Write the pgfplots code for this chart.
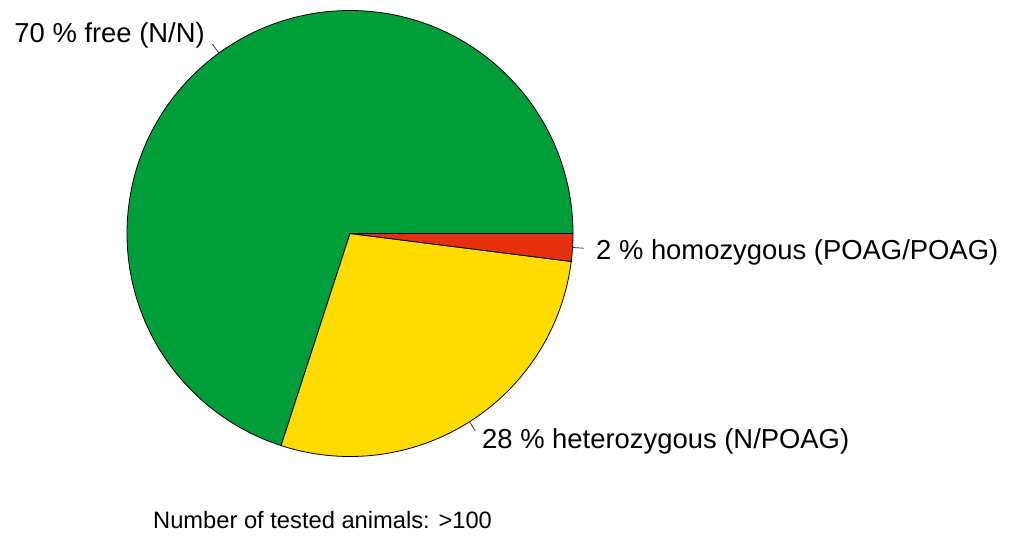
\documentclass[border=0pt]{standalone}
\usepackage{pgfplots}
\usepackage{pgfplotstable}
\pgfplotsset{compat=1.18}
\usepackage{fontspec}
\setmainfont{Liberation Sans}
\definecolor{pgreen}{HTML}{009E3A}
\definecolor{pyellow}{HTML}{FFDC00}
\definecolor{pred}{HTML}{E5300E}

\pgfplotstableread{
group pct
free 70
het 28
hom 2
}\piedata

\begin{document}
\begin{tikzpicture}
\pgfplotstablegetelem{0}{pct}\of\piedata \let\pA\pgfplotsretval
\pgfplotstablegetelem{1}{pct}\of\piedata \let\pB\pgfplotsretval
\pgfplotstablegetelem{2}{pct}\of\piedata \let\pC\pgfplotsretval
\pgfmathsetmacro{\aA}{\pA*3.6}
\pgfmathsetmacro{\aB}{\aA+\pB*3.6}
\pgfmathsetmacro{\aC}{\aB+\pC*3.6}
\pgfmathsetmacro{\mA}{\aA/2}
\pgfmathsetmacro{\mB}{(\aA+\aB)/2}
\pgfmathsetmacro{\mC}{(\aB+\aC)/2}
\begin{axis}[scale only axis, width=1016pt, height=535pt,
  xmin=0, xmax=1016, ymin=0, ymax=535, y dir=reverse,
  hide axis, clip=false]
\path (axis cs:0,0) (axis cs:1016,535);
\filldraw[fill=pgreen, draw=black, line width=0.8pt, line join=round]
  (axis cs:350,233.5) -- ++(0:223pt) arc[start angle=0, end angle=\aA, radius=223pt] -- cycle;
\filldraw[fill=pyellow, draw=black, line width=0.8pt, line join=round]
  (axis cs:350,233.5) -- ++(\aA:223pt) arc[start angle=\aA, end angle=\aB, radius=223pt] -- cycle;
\filldraw[fill=pred, draw=black, line width=0.8pt, line join=round]
  (axis cs:350,233.5) -- ++(\aB:223pt) arc[start angle=\aB, end angle=\aC, radius=223pt] -- cycle;
\draw[line width=0.8pt, black!80] (axis cs:350,233.5) ++(\mA:223pt) -- ++(\mA:11pt);
\draw[line width=0.8pt, black!80] (axis cs:350,233.5) ++(\mB:223pt) -- ++(\mB:11pt);
\draw[line width=0.8pt, black!80] (axis cs:350,233.5) ++(\mC:223pt) -- ++(\mC:11pt);
\node[anchor=base east, inner sep=0pt, font=\fontsize{27.4}{32}\selectfont] at (axis cs:205,42) {70 \% free (N/N)};
\node[anchor=base west, inner sep=0pt, font=\fontsize{27.4}{32}\selectfont] at (axis cs:596,259) {2 \% homozygous (POAG/POAG)};
\node[anchor=base west, inner sep=0pt, font=\fontsize{27.4}{32}\selectfont] at (axis cs:482,448) {28 \% heterozygous (N/POAG)};
\node[anchor=base west, inner sep=0pt, font=\fontsize{23.7}{28}\selectfont] at (axis cs:153,528) {Number of tested animals: >100};
\end{axis}
\end{tikzpicture}
\end{document}
